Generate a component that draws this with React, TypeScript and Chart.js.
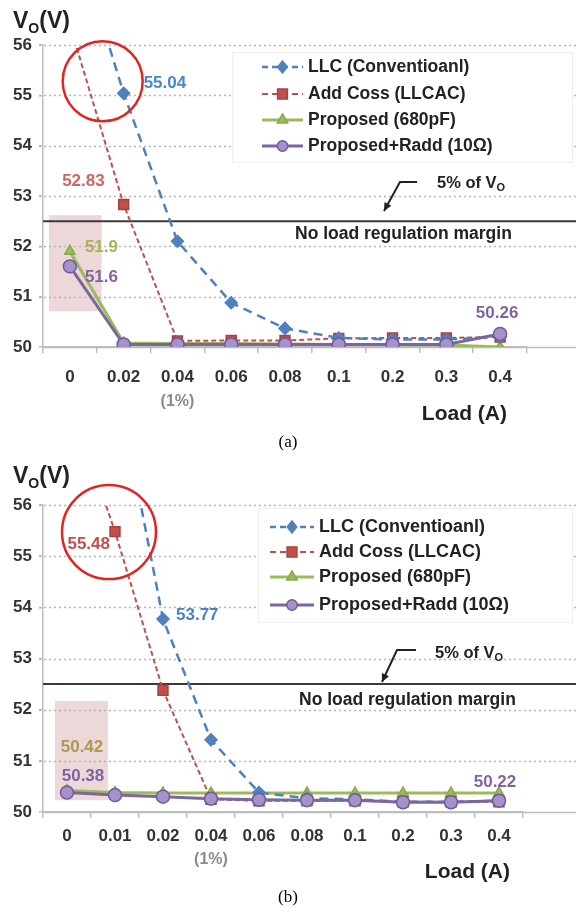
import React, { useEffect, useRef } from 'react';
import { Chart, registerables } from 'chart.js';
Chart.register(...registerables);

// ---------- data ----------
const SERIES_NAMES = ['LLC (Conventioanl)', 'Add Coss (LLCAC)', 'Proposed (680pF)', 'Proposed+Radd (10Ω)'];
const Y_TICKS = [50, 51, 52, 53, 54, 55, 56];
const MARGIN_LIMIT = 52.5;

const CATS_A = ['0', '0.02', '0.04', '0.06', '0.08', '0.1', '0.2', '0.3', '0.4'];
const LLC_A = [58.5, 55.04, 52.1, 50.88, 50.37, 50.18, 50.15, 50.15, 50.2];
const COSS_A = [56.4, 52.83, 50.12, 50.13, 50.13, 50.17, 50.18, 50.18, 50.2];
const PROP_A = [51.9, 50.08, 50.07, 50.07, 50.06, 50.05, 50.05, 50.04, 50.0];
const RADD_A = [51.6, 50.05, 50.05, 50.05, 50.05, 50.05, 50.05, 50.05, 50.26];

const CATS_B = ['0', '0.01', '0.02', '0.04', '0.06', '0.08', '0.1', '0.2', '0.3', '0.4'];
const LLC_B = [60.0, 58.6, 53.77, 51.41, 50.38, 50.27, 50.25, 50.2, 50.2, 50.22];
const COSS_B = [58.2, 55.48, 52.38, 50.25, 50.22, 50.22, 50.22, 50.2, 50.2, 50.2];
const PROP_B = [50.42, 50.38, 50.37, 50.37, 50.37, 50.37, 50.37, 50.37, 50.37, 50.37];
const RADD_B = [50.38, 50.33, 50.3, 50.26, 50.24, 50.23, 50.23, 50.19, 50.19, 50.22];

// ---------- styles ----------
const FONT = '"Liberation Sans", Arial, sans-serif';
const W = 576;
const STYLES = [
  { color: '#4F81BD', dash: [9, 6], width: 2.5, point: 'rectRot', r: 6, fill: '#4F81BD', pb: '#4F81BD' },
  { color: '#C0504D', dash: [5, 3], width: 2, point: 'rect', r: 7, fill: '#C0504D', pb: '#A8403D' },
  { color: '#9BBB59', dash: [], width: 3, point: 'triangle', r: 6, fill: '#9BBB59', pb: '#8AA84C' },
  { color: '#7B66A0', dash: [], width: 3, point: 'circle', r: 6.5, fill: '#A592C8', pb: '#7458A0' },
];

type LabelSpec = { s: number; i: number; dx: number; dy: number; align: CanvasTextAlign; color: string };
type PanelSpec = {
  cats: string[];
  series: number[][];
  height: number;
  area: { left: number; top: number; right: number; bottom: number };
  xLabelPad: number;
  shade: [number, number, number, number];
  circle: [number, number, number];
  labels: LabelSpec[];
  legendBox: [number, number, number, number];
  legendRows: number[];
  legendLine: [number, number];
  legendText: number;
  legendSize: number;
  noLoad: [number, number];
  five: [number, number];
  arrow: [number, number][];
  titleY: number;
  loadXY: [number, number];
  pctY: number;
  caption: string;
  captionY: number;
};

const PANEL_A: PanelSpec = {
  cats: CATS_A,
  series: [LLC_A, COSS_A, PROP_A, RADD_A],
  height: 455,
  area: { left: 43, top: 45, right: 527, bottom: 347 },
  xLabelPad: 14,
  shade: [-0.39, 0.59, 52.62, 50.71],
  circle: [0.61, 55.28, 40],
  labels: [
    { s: 0, i: 1, dx: 20, dy: -10, align: 'left', color: '#4A86C8' },
    { s: 1, i: 1, dx: -19, dy: -23, align: 'right', color: '#CF6565' },
    { s: 2, i: 0, dx: 15, dy: -4, align: 'left', color: '#A9B25A' },
    { s: 3, i: 0, dx: 15, dy: 11, align: 'left', color: '#8064A2' },
    { s: 3, i: 8, dx: -3, dy: -21, align: 'center', color: '#8064A2' },
  ],
  legendBox: [232, 52, 340, 110],
  legendRows: [67, 94, 120, 146],
  legendLine: [262, 303],
  legendText: 308,
  legendSize: 17.5,
  noLoad: [295, 234],
  five: [437, 183],
  arrow: [[417, 182], [400, 182], [384, 211]],
  titleY: 20,
  loadXY: [507, 414],
  pctY: 402,
  caption: '(a)',
  captionY: 443,
};

const PANEL_B: PanelSpec = {
  cats: CATS_B,
  series: [LLC_B, COSS_B, PROP_B, RADD_B],
  height: 459,
  area: { left: 43, top: 50, right: 523, bottom: 357 },
  xLabelPad: 8,
  shade: [-0.25, 0.85, 52.17, 50.23],
  circle: [0.875, 55.47, 47],
  labels: [
    { s: 1, i: 1, dx: -5, dy: 13, align: 'right', color: '#C0504D' },
    { s: 0, i: 2, dx: 13, dy: -4, align: 'left', color: '#4F81BD' },
    { s: 2, i: 0, dx: 15, dy: -43, align: 'center', color: '#A89A50' },
    { s: 3, i: 0, dx: 16, dy: -16, align: 'center', color: '#8064A2' },
    { s: 3, i: 9, dx: -4, dy: -18, align: 'center', color: '#8064A2' },
  ],
  legendBox: [258, 53, 314, 114],
  legendRows: [72, 97, 122, 150],
  legendLine: [270, 314],
  legendText: 319,
  legendSize: 18,
  noLoad: [299, 245],
  five: [435, 198],
  arrow: [[416, 195], [397, 195], [382, 227]],
  titleY: 20,
  loadXY: [510, 417],
  pctY: 405,
  caption: '(b)',
  captionY: 443,
};

function drawMarker(ctx: CanvasRenderingContext2D, st: any, x: number, y: number) {
  ctx.save();
  ctx.fillStyle = st.fill;
  ctx.strokeStyle = st.pb;
  ctx.lineWidth = 1.5;
  ctx.setLineDash([]);
  const r = st.r;
  ctx.beginPath();
  if (st.point === 'rectRot') {
    ctx.moveTo(x, y - r); ctx.lineTo(x + r * 0.8, y); ctx.lineTo(x, y + r); ctx.lineTo(x - r * 0.8, y); ctx.closePath();
  } else if (st.point === 'rect') {
    const s = r * 0.7;
    ctx.rect(x - s, y - s, 2 * s, 2 * s);
  } else if (st.point === 'triangle') {
    ctx.moveTo(x, y - r); ctx.lineTo(x + r * 0.87, y + r * 0.5); ctx.lineTo(x - r * 0.87, y + r * 0.5); ctx.closePath();
  } else {
    ctx.arc(x, y, r * 0.8, 0, Math.PI * 2);
  }
  ctx.fill();
  ctx.stroke();
  ctx.restore();
}

function drawVo(ctx: CanvasRenderingContext2D, x: number, yMid: number, big: number, small: number) {
  ctx.save();
  ctx.fillStyle = '#222';
  ctx.textBaseline = 'alphabetic';
  ctx.textAlign = 'left';
  const base = yMid + big * 0.36;
  ctx.font = `bold ${big}px ${FONT}`;
  ctx.fillText('V', x, base);
  let cx = x + ctx.measureText('V').width;
  ctx.font = `bold ${small}px ${FONT}`;
  ctx.fillText('O', cx, base + small * 0.35);
  cx += ctx.measureText('O').width;
  ctx.font = `bold ${big}px ${FONT}`;
  ctx.fillText('(V)', cx, base);
  ctx.restore();
}

function makePlugin(spec: PanelSpec) {
  return {
    id: 'annot',
    beforeDatasetsDraw(chart: any) {
      const { ctx, chartArea: a, scales } = chart;
      const x = scales.x, y = scales.y;
      ctx.save();
      // shaded region
      const sx0 = x.getPixelForValue(spec.shade[0]);
      const sx1 = x.getPixelForValue(spec.shade[1]);
      const sy0 = y.getPixelForValue(spec.shade[2]);
      const sy1 = y.getPixelForValue(spec.shade[3]);
      ctx.fillStyle = 'rgba(210,160,165,0.42)';
      ctx.fillRect(sx0, sy0, sx1 - sx0, sy1 - sy0);
      // gridlines
      for (const v of Y_TICKS) {
        const py = Math.round(y.getPixelForValue(v)) + 0.5;
        ctx.beginPath();
        if (v === Y_TICKS[0]) {
          ctx.setLineDash([]);
          ctx.strokeStyle = '#bdbdbd';
          ctx.lineWidth = 1.5;
          ctx.moveTo(a.left, py);
        } else {
          ctx.setLineDash([2, 3]);
          ctx.strokeStyle = '#b5b5b5';
          ctx.lineWidth = 1.5;
          ctx.moveTo(a.left - 4, py);
        }
        ctx.lineTo(W, py);
        ctx.stroke();
      }
      ctx.setLineDash([]);
      // legend box
      const [bx, by, bw, bh] = spec.legendBox;
      ctx.fillStyle = '#ffffff';
      ctx.fillRect(bx, by, bw, bh);
      ctx.strokeStyle = '#eeeeee';
      ctx.lineWidth = 1;
      ctx.strokeRect(bx + 0.5, by + 0.5, bw, bh);
      // regulation margin line
      const ly = y.getPixelForValue(MARGIN_LIMIT);
      ctx.beginPath();
      ctx.strokeStyle = '#3a3a3a';
      ctx.lineWidth = 2;
      ctx.moveTo(a.left, ly);
      ctx.lineTo(W, ly);
      ctx.stroke();
      ctx.restore();
    },
    afterDatasetsDraw(chart: any) {
      const { ctx, scales } = chart;
      const x = scales.x, y = scales.y;
      ctx.save();
      // red circle
      const [cxv, cyv, cr] = spec.circle;
      ctx.beginPath();
      ctx.strokeStyle = '#E02424';
      ctx.lineWidth = 2.5;
      ctx.arc(x.getPixelForValue(cxv), y.getPixelForValue(cyv), cr, 0, Math.PI * 2);
      ctx.stroke();
      // data labels
      ctx.font = `bold 17px ${FONT}`;
      ctx.textBaseline = 'middle';
      for (const l of spec.labels) {
        const pt = chart.getDatasetMeta(l.s).data[l.i];
        ctx.fillStyle = l.color;
        ctx.textAlign = l.align;
        ctx.fillText(String(spec.series[l.s][l.i]), pt.x + l.dx, pt.y + l.dy);
      }
      // legend entries
      spec.legendRows.forEach((ry, k) => {
        const st = STYLES[k];
        ctx.beginPath();
        ctx.strokeStyle = st.color;
        ctx.lineWidth = st.width;
        ctx.setLineDash(st.dash.length ? [6, 4] : []);
        ctx.moveTo(spec.legendLine[0], ry);
        ctx.lineTo(spec.legendLine[1], ry);
        ctx.stroke();
        ctx.setLineDash([]);
        drawMarker(ctx, st, (spec.legendLine[0] + spec.legendLine[1]) / 2, ry);
        ctx.fillStyle = '#222';
        ctx.textAlign = 'left';
        ctx.font = `bold ${spec.legendSize}px ${FONT}`;
        ctx.fillText(chart.data.datasets[k].label, spec.legendText, ry);
      });
      // annotation texts
      ctx.fillStyle = '#222';
      ctx.textAlign = 'left';
      ctx.font = `bold 17.5px ${FONT}`;
      ctx.fillText('No load regulation margin', spec.noLoad[0], spec.noLoad[1]);
      ctx.font = `bold 16.5px ${FONT}`;
      ctx.fillText('5% of V', spec.five[0], spec.five[1]);
      const fw = ctx.measureText('5% of V').width;
      ctx.font = `bold 11px ${FONT}`;
      ctx.fillText('O', spec.five[0] + fw, spec.five[1] + 5);
      // arrow
      const pts = spec.arrow;
      ctx.beginPath();
      ctx.strokeStyle = '#222';
      ctx.lineWidth = 2;
      ctx.moveTo(pts[0][0], pts[0][1]);
      for (let i = 1; i < pts.length; i++) ctx.lineTo(pts[i][0], pts[i][1]);
      ctx.stroke();
      const [ax, ay] = pts[pts.length - 1];
      const [px, py] = pts[pts.length - 2];
      const ang = Math.atan2(ay - py, ax - px);
      ctx.beginPath();
      ctx.fillStyle = '#222';
      ctx.moveTo(ax, ay);
      ctx.lineTo(ax - 9 * Math.cos(ang - 0.45), ay - 9 * Math.sin(ang - 0.45));
      ctx.lineTo(ax - 9 * Math.cos(ang + 0.45), ay - 9 * Math.sin(ang + 0.45));
      ctx.closePath();
      ctx.fill();
      // titles
      drawVo(ctx, 13, spec.titleY, 23, 14);
      ctx.fillStyle = '#222';
      ctx.textAlign = 'right';
      ctx.textBaseline = 'middle';
      ctx.font = `bold 21px ${FONT}`;
      ctx.fillText('Load (A)', spec.loadXY[0], spec.loadXY[1]);
      ctx.textAlign = 'center';
      ctx.fillStyle = '#8a8a8a';
      ctx.font = `bold 16px ${FONT}`;
      ctx.fillText('(1%)', x.getPixelForValue(spec.cats.indexOf('0.04')), spec.pctY);
      ctx.fillStyle = '#000';
      ctx.font = `17px "Liberation Serif", "Times New Roman", serif`;
      ctx.fillText(spec.caption, W / 2, spec.captionY);
      ctx.restore();
    },
  };
}

function Panel({ spec }: { spec: PanelSpec }) {
  const ref = useRef<HTMLCanvasElement | null>(null);
  useEffect(() => {
    if (!ref.current) return;
    const tickFont = { family: FONT, size: 17, weight: 'bold' as const };
    const chart = new Chart(ref.current, {
      type: 'line',
      data: {
        labels: spec.cats,
        datasets: spec.series.map((vals, k) => {
          const st = STYLES[k];
          return {
            label: SERIES_NAMES[k],
            data: vals,
            borderColor: st.color,
            borderDash: st.dash,
            borderWidth: st.width,
            pointStyle: st.point as any,
            pointRadius: st.r,
            pointBackgroundColor: st.fill,
            pointBorderColor: st.pb,
            pointBorderWidth: 1.5,
            tension: 0,
            fill: false,
            order: k === 3 ? 0 : k + 1,
          };
        }),
      },
      options: {
        responsive: false,
        animation: false,
        events: [],
        layout: { padding: { left: 0, top: spec.area.top, right: W - spec.area.right, bottom: 0 } },
        plugins: { legend: { display: false }, tooltip: { enabled: false } },
        scales: {
          x: {
            type: 'category',
            offset: true,
            grid: { offset: true, drawOnChartArea: false, tickLength: 6, color: '#bdbdbd', lineWidth: 1.5 },
            border: { color: '#bdbdbd', width: 1.5 },
            ticks: { color: '#333', font: tickFont, padding: spec.xLabelPad, maxRotation: 0, autoSkip: false },
            afterFit: (s: any) => { s.height = spec.height - spec.area.bottom; },
          },
          y: {
            min: 50,
            max: 56,
            afterBuildTicks: (s: any) => { s.ticks = Y_TICKS.map((v) => ({ value: v })); },
            grid: { drawOnChartArea: false, tickLength: 4, color: '#bdbdbd', lineWidth: 1.5 },
            border: { color: '#bdbdbd', width: 1.5 },
            ticks: { color: '#333', font: tickFont, padding: 7 },
            afterFit: (s: any) => { s.width = spec.area.left; },
          },
        },
      },
      plugins: [makePlugin(spec)],
    });
    return () => chart.destroy();
  }, [spec]);
  return (
    <canvas
      ref={ref}
      width={W}
      height={spec.height}
      style={{ display: 'block', width: W, height: spec.height }}
    />
  );
}

export default function App() {
  return (
    <div style={{ position: 'absolute', left: 0, top: 0, width: W, height: 914, background: '#fff' }}>
      <Panel spec={PANEL_A} />
      <Panel spec={PANEL_B} />
    </div>
  );
}
